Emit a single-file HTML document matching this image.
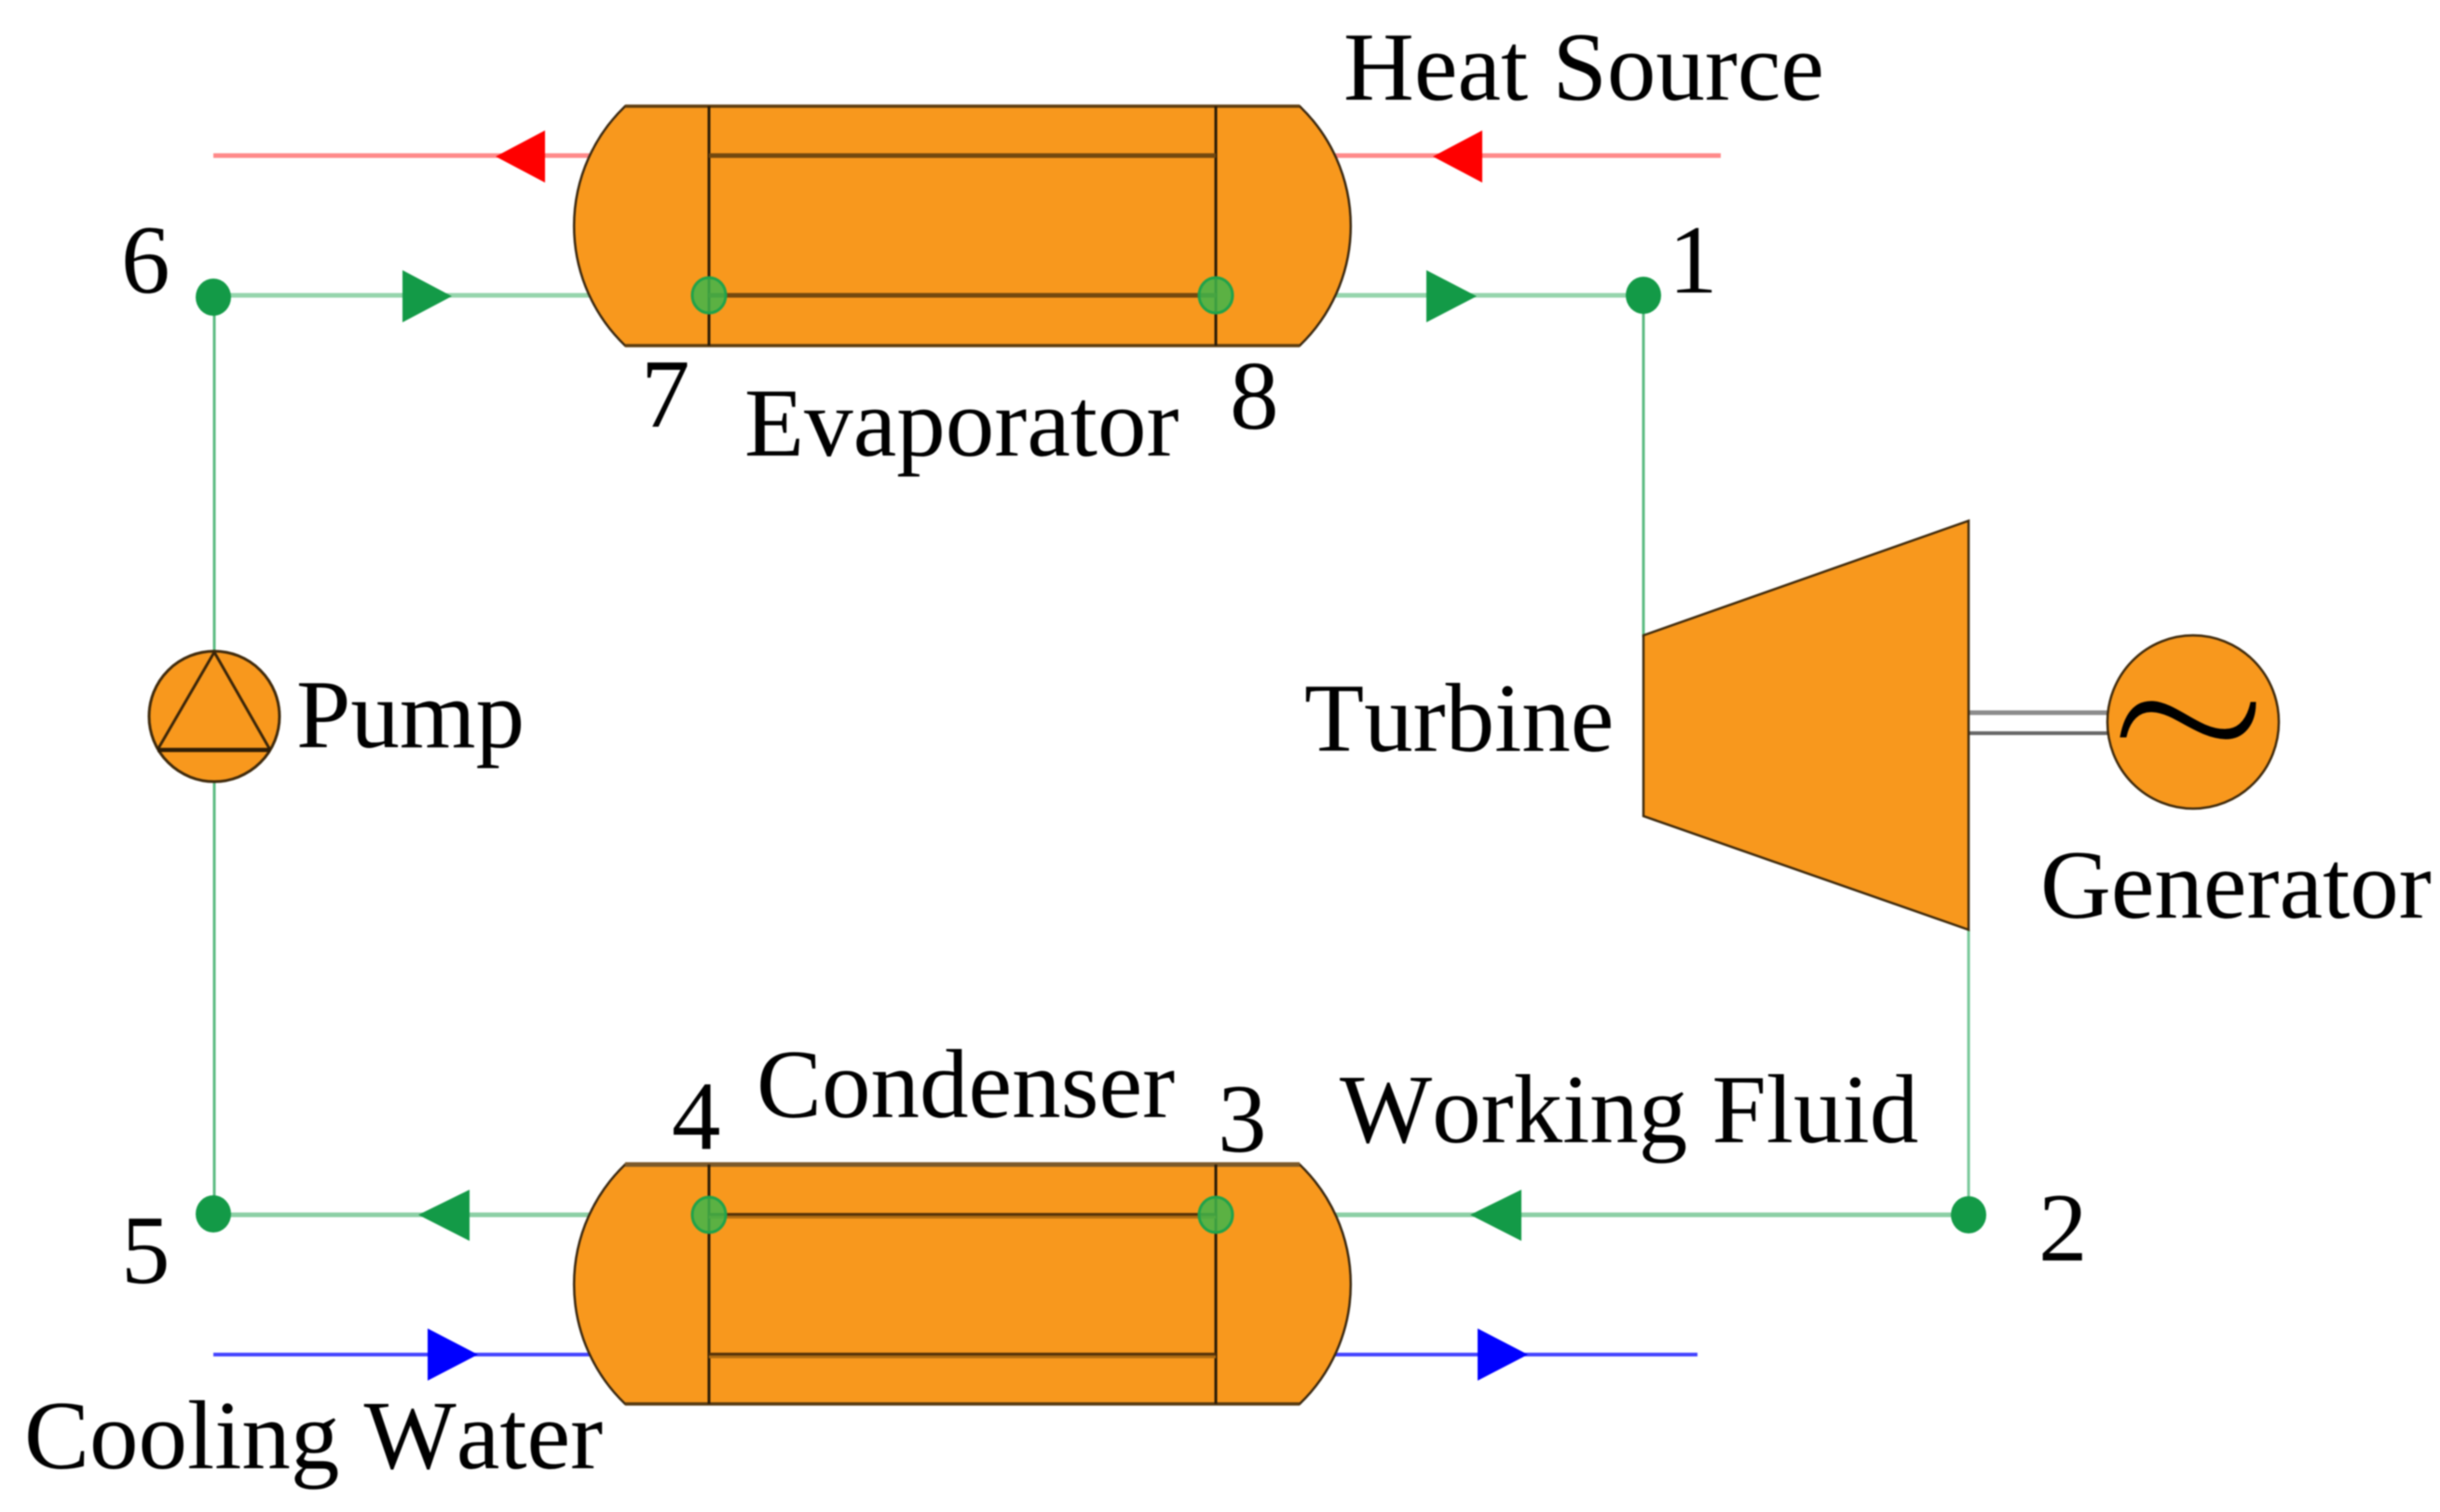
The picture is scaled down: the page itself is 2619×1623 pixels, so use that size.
<!DOCTYPE html>
<html>
<head>
<meta charset="utf-8">
<style>
html,body{margin:0;padding:0;background:#fff;width:2619px;height:1623px;overflow:hidden}
svg{display:block;filter:blur(0.7px)}
text{font-family:"Liberation Serif",serif;font-size:105px;fill:#000;font-kerning:none}
</style>
</head>
<body>
<svg width="2619" height="1623" viewBox="0 0 2619 1623" xmlns="http://www.w3.org/2000/svg">
<rect width="2619" height="1623" fill="#fff"/>

<!-- Loop connectors -->
<g fill="none">
  <path d="M229 167H660M1400 167H1847" stroke="#ff8a8a" stroke-width="5"/>
  <path d="M229 317H660M1400 317H1764" stroke="#96d5ad" stroke-width="5"/>
  <path d="M229 1304H660M1400 1304H2113" stroke="#8ccfa5" stroke-width="5"/>
  <path d="M229 1454H660M1400 1454H1822" stroke="#4444ff" stroke-width="4"/>
  <path d="M230 319V700M230 839V1303" stroke="#5cbb82" stroke-width="3"/>
  <path d="M1764 317V684" stroke="#5cbb82" stroke-width="3"/>
  <path d="M2113 998V1304" stroke="#7ac99a" stroke-width="3"/>
  <path d="M2113 765H2262" stroke="#8c8c8c" stroke-width="5"/>
  <path d="M2113 787H2262" stroke="#666" stroke-width="4"/>
</g>

<!-- Evaporator -->
<path d="M671 114H1395A178 178 0 0 1 1395 371H671A178 178 0 0 1 671 114Z" fill="#f8981d" stroke="#3a2810" stroke-width="2.5"/>
<path d="M671 114H1395M671 371H1395" stroke="#5e3d10" stroke-width="3.5" fill="none"/>
<path d="M761 114V371M1305 114V371" stroke="#2a1c08" stroke-width="3" fill="none"/>
<path d="M761 167H1305M761 317H1305" stroke="#74490f" stroke-width="5" fill="none"/>

<!-- Condenser -->
<path d="M671 1250H1395A178 178 0 0 1 1395 1507H671A178 178 0 0 1 671 1250Z" fill="#f8981d" stroke="#3a2810" stroke-width="2.5"/>
<path d="M671 1250H1395" stroke="#7d5a2a" stroke-width="5" fill="none"/>
<path d="M671 1507H1395" stroke="#553810" stroke-width="3.5" fill="none"/>
<path d="M761 1250V1507M1305 1250V1507" stroke="#2a1c08" stroke-width="3" fill="none"/>
<path d="M761 1305H1305M761 1455H1305" stroke="#b06c12" stroke-width="6" fill="none"/>
<path d="M761 1303.5H1305M761 1453.5H1305" stroke="#553208" stroke-width="3" fill="none"/>

<!-- Turbine -->
<polygon points="1764,682 2113,559 2113,998 1764,876" fill="#f8981d" stroke="#3f2a0c" stroke-width="2.5"/>

<!-- Generator -->
<ellipse cx="2354" cy="775" rx="92" ry="93" fill="#f8981d" stroke="#3f2a0c" stroke-width="2.5"/>
<path d="M2276 791C2281 764 2293 752 2311 753C2337 755 2360 783 2388 783C2403 783 2412 772 2416 754L2421 754C2421 778 2408 793 2389 793C2358 792 2334 765 2311 764C2296 763 2286 773 2282 791Z" fill="#000" stroke="#000" stroke-width="1"/>

<!-- Pump -->
<ellipse cx="230" cy="769" rx="70" ry="70" fill="#f8981d" stroke="#3f2a0c" stroke-width="3"/>
<path d="M230 700L169 805M230 700L290 805" fill="none" stroke="#3a2509" stroke-width="3"/>
<path d="M169 805H290" fill="none" stroke="#2e1d06" stroke-width="4.5"/>

<!-- Arrowheads -->
<polygon points="532,168 585,140 585,196" fill="#ff0000"/>
<polygon points="1538,168 1591,140 1591,196" fill="#ff0000"/>
<polygon points="432,290 485,318 432,346" fill="#139a47"/>
<polygon points="1531,290 1585,318 1531,346" fill="#139a47"/>
<polygon points="449,1304 504,1277 504,1332" fill="#139a47"/>
<polygon points="1578,1304 1633,1277 1633,1332" fill="#139a47"/>
<polygon points="459,1426 513,1454 459,1482" fill="#0000ff"/>
<polygon points="1586,1426 1640,1454 1586,1482" fill="#0000ff"/>

<!-- Junction nodes -->
<g fill="#139a47">
  <ellipse cx="229" cy="319" rx="19" ry="20"/>
  <ellipse cx="1764" cy="317" rx="19" ry="20"/>
  <ellipse cx="229" cy="1303" rx="19" ry="20"/>
  <ellipse cx="2113" cy="1304" rx="19" ry="20"/>
</g>
<g fill="#3fb54a" fill-opacity=".85" stroke="#1fa24a" stroke-width="3">
  <ellipse cx="761" cy="317" rx="18" ry="19"/>
  <ellipse cx="1305" cy="317" rx="18" ry="19"/>
  <ellipse cx="761" cy="1304" rx="18" ry="19"/>
  <ellipse cx="1305" cy="1304" rx="18" ry="19"/>
</g>

<!-- Labels -->
<text x="1442" y="107">Heat Source</text>
<text x="799" y="489">Evaporator</text>
<text x="1400" y="806">Turbine</text>
<text x="2190" y="985">Generator</text>
<text x="318" y="802">Pump</text>
<text x="812" y="1199">Condenser</text>
<text x="1438" y="1226">Working Fluid</text>
<text x="26" y="1576">Cooling Water</text>
<text x="130" y="314">6</text>
<text x="1791" y="314">1</text>
<text x="688" y="458">7</text>
<text x="1320" y="460">8</text>
<text x="721" y="1233">4</text>
<text x="1307" y="1236">3</text>
<text x="2188" y="1353">2</text>
<text x="130" y="1377">5</text>
</svg>
</body>
</html>
